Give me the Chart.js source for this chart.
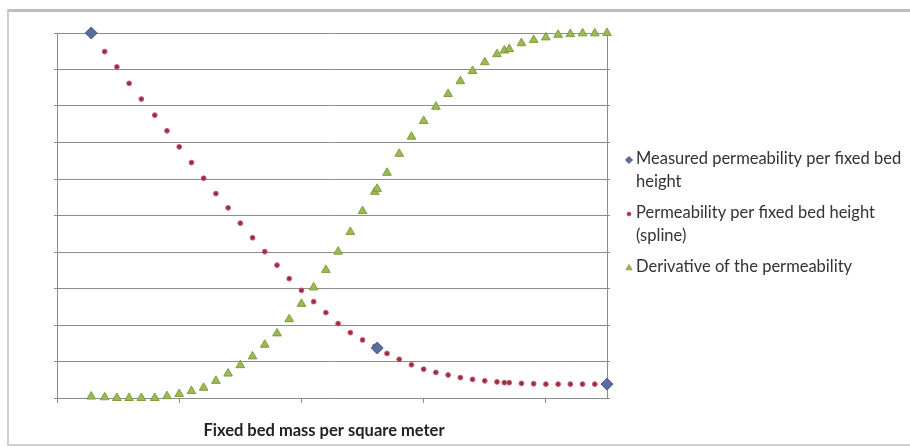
<!DOCTYPE html>
<html>
<head>
<meta charset="utf-8">
<script src="https://cdn.jsdelivr.net/npm/chart.js@4.4.1/dist/chart.umd.min.js"></script>
<style>
  html, body { margin: 0; padding: 0; background: #fff; width: 910px; height: 447px; overflow: hidden; }
  #frame { position: absolute; left: 7px; top: 9px; width: 930px; height: 437px; box-sizing: border-box;
           border: 2px solid #cfcfcf; border-top: 3px solid #bdbdbd; }
  #wrap { position: absolute; left: 0; top: 0; width: 910px; height: 447px; }
</style>
</head>
<body>
<div id="frame"></div>
<div id="wrap"><canvas id="chart"></canvas></div>
<script>
// Fixed bed mass per square meter (x) for the spline / derivative samples
const massX = [0.28, 0.39, 0.49, 0.59, 0.69, 0.8, 0.9, 1.0, 1.1, 1.2, 1.3, 1.4, 1.5, 1.6, 1.7,
               1.8, 1.9, 2.0, 2.1, 2.2, 2.3, 2.4, 2.5, 2.6, 2.62, 2.7, 2.8, 2.9, 3.0, 3.1,
               3.2, 3.3, 3.4, 3.5, 3.6, 3.66, 3.7, 3.8, 3.9, 4.0, 4.1, 4.2, 4.3, 4.4, 4.5];

// Permeability per fixed bed height, spline through the measured points (normalised)
const splineY = [1.0, 0.949, 0.907, 0.862, 0.819, 0.775, 0.732, 0.688, 0.645, 0.602, 0.56, 0.521, 0.479, 0.439, 0.401,
                 0.364, 0.327, 0.295, 0.264, 0.234, 0.204, 0.179, 0.159, 0.141, 0.137, 0.122, 0.106, 0.091, 0.079, 0.07,
                 0.063, 0.056, 0.051, 0.047, 0.044, 0.042, 0.042, 0.04, 0.039, 0.038, 0.038, 0.038, 0.038, 0.038, 0.038];

// Derivative of the permeability (normalised)
const derivativeY = [0.004, 0.002, 0, 0, 0, 0, 0.005, 0.011, 0.019, 0.028, 0.047, 0.067, 0.09, 0.114, 0.146,
                     0.177, 0.216, 0.258, 0.303, 0.351, 0.401, 0.455, 0.512, 0.565, 0.573, 0.617, 0.669, 0.716, 0.759, 0.798,
                     0.833, 0.868, 0.896, 0.92, 0.942, 0.952, 0.956, 0.972, 0.981, 0.988, 0.995, 0.997, 0.999, 0.999, 1.0];

// Measured permeability per fixed bed height
const measuredX = [0.28, 2.62, 4.5];
const measuredY = [1.0, 0.137, 0.038];

const seriesNames = [
  'Measured permeability per fixed bed height',
  'Permeability per fixed bed height (spline)',
  'Derivative of the permeability'
];
const xAxisTitle = 'Fixed bed mass per square meter';

const toPoints = (xs, ys) => xs.map((x, i) => ({ x: x, y: ys[i] }));

const AXIS_GRAY = '#8c8c8c';

function wrapWords(ctx, text, maxWidth) {
  const words = text.split(' ');
  const lines = [];
  let line = '';
  for (const w of words) {
    const test = line ? line + ' ' + w : w;
    if (line && ctx.measureText(test).width > maxWidth) { lines.push(line); line = w; }
    else line = test;
  }
  if (line) lines.push(line);
  return lines;
}

// Legend at the right of the plot (wrapped labels) and the x-axis title
const sideLegend = {
  id: 'sideLegend',
  afterDraw(chart) {
    const ctx = chart.ctx;
    const area = chart.chartArea;
    ctx.save();

    // x-axis title
    ctx.font = 'bold 16.5px Lato';
    ctx.fillStyle = '#222';
    ctx.textAlign = 'center';
    ctx.textBaseline = 'middle';
    ctx.fillText(xAxisTitle, (area.left + area.right) / 2 - 8, area.bottom + 33);

    // legend
    ctx.font = '16.5px Lato';
    ctx.textAlign = 'left';
    const markerX = area.right + 22;
    const textX = area.right + 29;
    const maxW = 272;
    const lineH = 22.5;
    const markerR = [3.6, 2, 3.6];
    let y = area.top + 126;
    chart.data.datasets.forEach((ds, i) => {
      const lines = wrapWords(ctx, ds.label, maxW);
      ctx.fillStyle = ds.backgroundColor;
      ctx.strokeStyle = ds.borderColor;
      ctx.lineWidth = 0.8;
      Chart.helpers.drawPoint(ctx, { pointStyle: ds.pointStyle, radius: markerR[i], rotation: 0, borderWidth: 0.8 }, markerX, y + 1);
      ctx.fillStyle = '#333';
      lines.forEach((ln, k) => ctx.fillText(ln, textX, y + k * lineH));
      y += lines.length * lineH + 9;
    });
    ctx.restore();
  }
};

new Chart(document.getElementById('chart'), {
  type: 'scatter',
  data: {
    datasets: [
      {
        label: seriesNames[0],
        data: toPoints(measuredX, measuredY),
        pointStyle: 'rectRot',
        pointRadius: 6,
        backgroundColor: '#5a6c9e',
        borderColor: '#4b5b8c',
        borderWidth: 1,
        clip: false
      },
      {
        label: seriesNames[1],
        data: toPoints(massX, splineY),
        pointStyle: 'circle',
        pointRadius: 2.4,
        backgroundColor: '#9c2c46',
        borderColor: '#c45a6a',
        borderWidth: 1,
        clip: false
      },
      {
        label: seriesNames[2],
        data: toPoints(massX, derivativeY),
        pointStyle: 'triangle',
        pointRadius: 5,
        backgroundColor: '#9bb955',
        borderColor: '#809d3c',
        borderWidth: 1,
        clip: false
      }
    ]
  },
  options: {
    responsive: true,
    maintainAspectRatio: false,
    animation: false,
    events: [],
    layout: { padding: { top: 33, left: 0, right: 0, bottom: 0 }, autoPadding: false },
    plugins: { legend: { display: false }, tooltip: { enabled: false } },
    scales: {
      x: {
        type: 'linear', min: 0, max: 4.5,
        ticks: { display: false, stepSize: 1, includeBounds: false },
        grid: { drawOnChartArea: false, drawTicks: true, tickLength: 5, color: AXIS_GRAY },
        border: { display: true, color: AXIS_GRAY },
        afterFit(s) { s.height = 49; }
      },
      y: {
        type: 'linear', min: 0, max: 1,
        ticks: { display: false, stepSize: 0.1 },
        grid: { color: AXIS_GRAY, lineWidth: 1, drawTicks: true, tickLength: 3 },
        border: { display: true, color: AXIS_GRAY },
        afterFit(s) { s.width = 57; }
      },
      y2: {
        type: 'linear', position: 'right', min: 0, max: 1,
        ticks: { display: false, stepSize: 0.1 },
        grid: { drawOnChartArea: false, drawTicks: true, tickLength: 3, color: AXIS_GRAY },
        border: { display: true, color: AXIS_GRAY },
        afterFit(s) { s.width = 303; }
      }
    }
  },
  plugins: [sideLegend]
});
</script>
</body>
</html>
